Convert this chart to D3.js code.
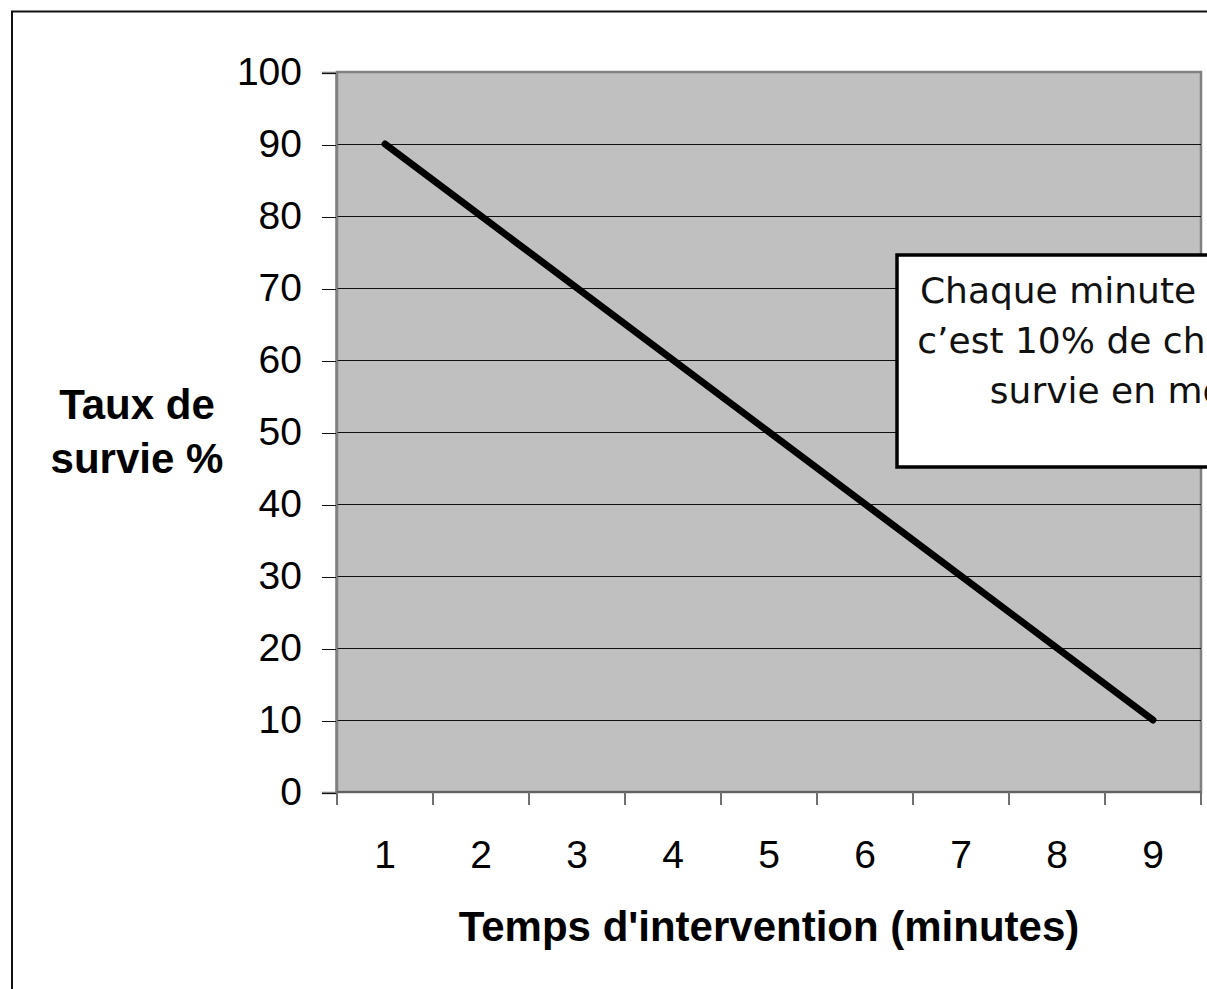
<!DOCTYPE html>
<html lang="fr">
<head>
    <meta charset="utf-8">
    <script type="text/javascript" src="https://cdn.jsdelivr.net/npm/d3@7/dist/d3.min.js"></script>
    <style>
        body { margin: 0; background: #fff; }
        svg { display: block; }
    </style>
</head>
<body>
<script type="text/javascript">

    // Data
    let minutes = [1, 2, 3, 4, 5, 6, 7, 8, 9];
    let survie = [90, 80, 70, 60, 50, 40, 30, 20, 10];
    let yTicks = [0, 10, 20, 30, 40, 50, 60, 70, 80, 90, 100];
    let yTitle = ["Taux de", "survie %"];
    let xTitle = "Temps d'intervention (minutes)";
    let note = ["Chaque minute perdue,", "c\u2019est 10% de chance de", "survie en moins"];

    //Width and height
    let w = 1207;
    let h = 989;

    let svg = d3.select("body")
        .append("svg")
        .attr("width", w)
        .attr("height", h);

    // outer frame (runs off the page right and bottom)
    svg.append("rect")
        .attr("x", 12)
        .attr("y", 11.5)
        .attr("width", 1400)
        .attr("height", 1200)
        .attr("fill", "#fff")
        .attr("stroke", "#111")
        .attr("stroke-width", 2);

    //Scales
    let x = d3.scaleBand()
        .domain(minutes)
        .range([337, 1201])
        .padding(0);

    let y = d3.scaleLinear()
        .domain([0, 100])
        .range([792, 72]);

    // plot area
    svg.append("rect")
        .attr("x", x.range()[0])
        .attr("y", y(100))
        .attr("width", x.range()[1] - x.range()[0])
        .attr("height", y(0) - y(100))
        .attr("fill", "#c0c0c0")
        .attr("stroke", "#808080")
        .attr("stroke-width", 2.5);

    // gridlines
    svg.selectAll("line.grid")
        .data(yTicks.filter(d => d > 0 && d < 100))
        .enter()
        .append("line")
        .attr("class", "grid")
        .attr("x1", x.range()[0])
        .attr("x2", x.range()[1])
        .attr("y1", d => y(d) + 0.5)
        .attr("y2", d => y(d) + 0.5)
        .attr("stroke", "#111")
        .attr("stroke-width", 1)
        .attr("shape-rendering", "crispEdges");

    // y axis
    let yAxis = svg.append("g")
        .attr("transform", "translate(336,0.5)")
        .call(d3.axisLeft(y).tickValues(yTicks).tickSize(14).tickPadding(20));
    yAxis.select(".domain").attr("stroke", "#808080").attr("stroke-width", 2.5);
    yAxis.selectAll(".tick line")
        .attr("stroke", "#111")
        .attr("stroke-width", 1)
        .attr("shape-rendering", "crispEdges");
    yAxis.selectAll(".tick text")
        .attr("fill", "#000")
        .style("font-family", "'Liberation Sans', Arial, sans-serif")
        .style("font-size", "39px");

    // x axis : labels at centres, ticks at category boundaries
    let xAxis = svg.append("g")
        .attr("transform", "translate(0,792)")
        .call(d3.axisBottom(x).tickSize(0).tickPadding(48));
    xAxis.select(".domain").remove();
    xAxis.selectAll(".tick text")
        .attr("fill", "#000")
        .style("font-family", "'Liberation Sans', Arial, sans-serif")
        .style("font-size", "39px");

    svg.append("line")
        .attr("x1", x.range()[0])
        .attr("x2", x.range()[1])
        .attr("y1", y(0))
        .attr("y2", y(0))
        .attr("stroke", "#606060")
        .attr("stroke-width", 2);

    svg.selectAll("line.xtick")
        .data(minutes.map(d => x(d)).concat([x.range()[1]]))
        .enter()
        .append("line")
        .attr("class", "xtick")
        .attr("x1", d => d)
        .attr("x2", d => d)
        .attr("y1", y(0))
        .attr("y2", y(0) + 13)
        .attr("stroke", "#707070")
        .attr("stroke-width", 2);

    // the line
    let line = d3.line()
        .x((d, i) => x(minutes[i]) + x.bandwidth() / 2)
        .y(d => y(d));

    svg.append("path")
        .datum(survie)
        .attr("d", line)
        .attr("fill", "none")
        .attr("stroke", "#000")
        .attr("stroke-width", 7)
        .attr("stroke-linecap", "round")
        .attr("stroke-linejoin", "round");

    // axis titles
    svg.append("text")
        .attr("x", 137)
        .attr("y", 419)
        .attr("text-anchor", "middle")
        .style("font-family", "'Liberation Sans', Arial, sans-serif")
        .style("font-size", "42px")
        .style("font-weight", "bold")
        .selectAll("tspan")
        .data(yTitle)
        .enter()
        .append("tspan")
        .attr("x", 137)
        .attr("dy", (d, i) => i ? 54 : 0)
        .text(d => d);

    svg.append("text")
        .attr("x", (x.range()[0] + x.range()[1]) / 2)
        .attr("y", 941)
        .attr("text-anchor", "middle")
        .style("font-family", "'Liberation Sans', Arial, sans-serif")
        .style("font-size", "42px")
        .style("font-weight", "bold")
        .text(xTitle);

    // annotation box (runs off the right edge, as in the source)
    svg.append("rect")
        .attr("x", 897)
        .attr("y", 255)
        .attr("width", 480)
        .attr("height", 212)
        .attr("fill", "#fff")
        .attr("stroke", "#000")
        .attr("stroke-width", 3.5);

    svg.append("text")
        .attr("text-anchor", "middle")
        .style("font-family", "'DejaVu Sans', Verdana, sans-serif")
        .style("font-size", "36px")
        .attr("fill", "#111")
        .selectAll("tspan")
        .data(note)
        .enter()
        .append("tspan")
        .attr("x", 1133)
        .attr("y", (d, i) => 303 + i * 50)
        .text(d => d);

</script>
</body>
</html>
